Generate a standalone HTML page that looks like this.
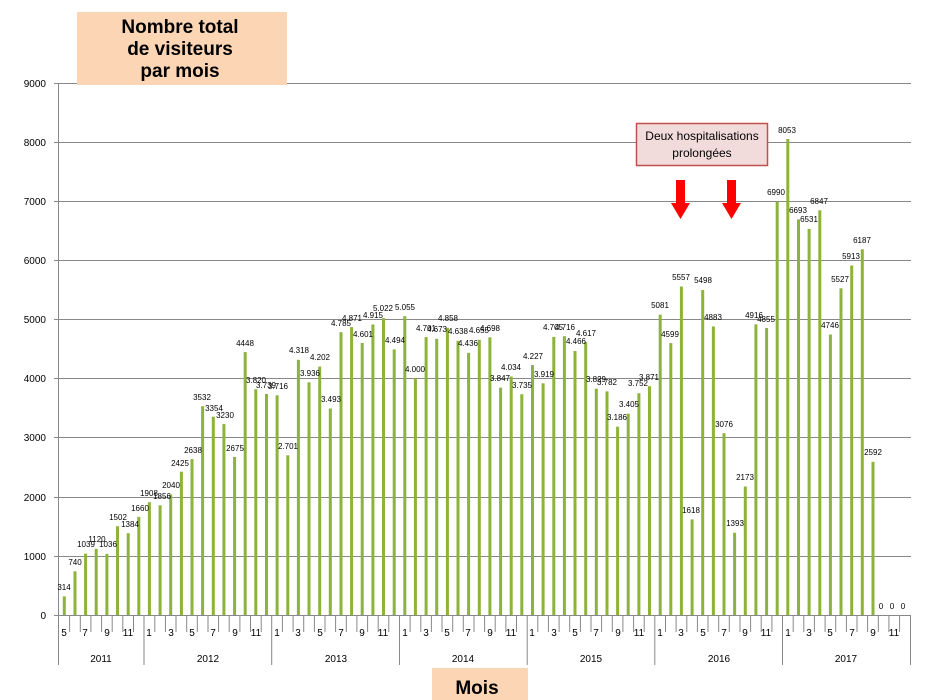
<!DOCTYPE html>
<html><head><meta charset="utf-8"><style>
html,body{margin:0;padding:0;background:#fff;}
svg{display:block;font-family:"Liberation Sans",sans-serif;}
.v{font-size:8px;text-anchor:middle;fill:#000;}
.m{font-size:10px;text-anchor:middle;fill:#000;}
.y{font-size:10px;text-anchor:end;fill:#000;}
</style></head><body>
<svg width="933" height="700" viewBox="0 0 933 700" xmlns="http://www.w3.org/2000/svg">
<rect width="933" height="700" fill="#fff"/>
<g stroke="#888" stroke-width="1">
<line x1="54" y1="83.5" x2="911" y2="83.5"/>
<line x1="54" y1="142.5" x2="911" y2="142.5"/>
<line x1="54" y1="201.5" x2="911" y2="201.5"/>
<line x1="54" y1="260.5" x2="911" y2="260.5"/>
<line x1="54" y1="319.5" x2="911" y2="319.5"/>
<line x1="54" y1="378.5" x2="911" y2="378.5"/>
<line x1="54" y1="437.5" x2="911" y2="437.5"/>
<line x1="54" y1="497.5" x2="911" y2="497.5"/>
<line x1="54" y1="556.5" x2="911" y2="556.5"/>
<line x1="54" y1="615.5" x2="911" y2="615.5"/>
<line x1="58.5" y1="83" x2="58.5" y2="665"/>
</g>
<g class="y">
<text x="46" y="87" class="y">9000</text><text x="46" y="146" class="y">8000</text><text x="46" y="205" class="y">7000</text><text x="46" y="264" class="y">6000</text><text x="46" y="323" class="y">5000</text><text x="46" y="382" class="y">4000</text><text x="46" y="441" class="y">3000</text><text x="46" y="501" class="y">2000</text><text x="46" y="560" class="y">1000</text><text x="46" y="619" class="y">0</text>
</g>
<g fill="#8db33a">
<rect x="62.8" y="596.4" width="3" height="18.6"/><rect x="73.5" y="571.3" width="3" height="43.7"/><rect x="84.1" y="553.6" width="3" height="61.4"/><rect x="94.7" y="548.8" width="3" height="66.2"/><rect x="105.4" y="553.8" width="3" height="61.2"/><rect x="116" y="526.2" width="3" height="88.8"/><rect x="126.7" y="533.2" width="3" height="81.8"/><rect x="137.3" y="516.9" width="3" height="98.1"/>
<rect x="147.9" y="502.2" width="3" height="112.8"/><rect x="158.6" y="505.3" width="3" height="109.7"/><rect x="169.2" y="494.4" width="3" height="120.6"/><rect x="179.9" y="471.7" width="3" height="143.3"/><rect x="190.5" y="459.1" width="3" height="155.9"/><rect x="201.1" y="406.2" width="3" height="208.8"/><rect x="211.8" y="416.7" width="3" height="198.3"/><rect x="222.4" y="424.1" width="3" height="190.9"/><rect x="233.1" y="456.9" width="3" height="158.1"/><rect x="243.7" y="352.1" width="3" height="262.9"/><rect x="254.3" y="389.2" width="3" height="225.8"/><rect x="265" y="394" width="3" height="221"/>
<rect x="275.6" y="395.3" width="3" height="219.7"/><rect x="286.3" y="455.3" width="3" height="159.7"/><rect x="296.9" y="359.8" width="3" height="255.2"/><rect x="307.5" y="382.3" width="3" height="232.7"/><rect x="318.2" y="366.6" width="3" height="248.4"/><rect x="328.8" y="408.5" width="3" height="206.5"/><rect x="339.5" y="332.2" width="3" height="282.8"/><rect x="350.1" y="327.1" width="3" height="287.9"/><rect x="360.7" y="343" width="3" height="272"/><rect x="371.4" y="324.5" width="3" height="290.5"/><rect x="382" y="318.1" width="3" height="296.9"/><rect x="392.7" y="349.4" width="3" height="265.6"/>
<rect x="403.3" y="316.2" width="3" height="298.8"/><rect x="413.9" y="378.6" width="3" height="236.4"/><rect x="424.6" y="337.1" width="3" height="277.9"/><rect x="435.2" y="338.8" width="3" height="276.2"/><rect x="445.9" y="327.8" width="3" height="287.2"/><rect x="456.5" y="340.8" width="3" height="274.2"/><rect x="467.1" y="352.8" width="3" height="262.2"/><rect x="477.8" y="339.8" width="3" height="275.2"/><rect x="488.4" y="337.3" width="3" height="277.7"/><rect x="499.1" y="387.6" width="3" height="227.4"/><rect x="509.7" y="376.5" width="3" height="238.5"/><rect x="520.3" y="394.2" width="3" height="220.8"/>
<rect x="531" y="365.1" width="3" height="249.9"/><rect x="541.6" y="383.3" width="3" height="231.7"/><rect x="552.3" y="336.9" width="3" height="278.1"/><rect x="562.9" y="336.2" width="3" height="278.8"/><rect x="573.5" y="351" width="3" height="264"/><rect x="584.2" y="342.1" width="3" height="272.9"/><rect x="594.8" y="388.7" width="3" height="226.3"/><rect x="605.5" y="391.4" width="3" height="223.6"/><rect x="616.1" y="426.7" width="3" height="188.3"/><rect x="626.7" y="413.7" width="3" height="201.3"/><rect x="637.4" y="393.2" width="3" height="221.8"/><rect x="648" y="386.2" width="3" height="228.8"/>
<rect x="658.7" y="314.7" width="3" height="300.3"/><rect x="669.3" y="343.1" width="3" height="271.9"/><rect x="679.9" y="286.5" width="3" height="328.5"/><rect x="690.6" y="519.4" width="3" height="95.6"/><rect x="701.2" y="290" width="3" height="325"/><rect x="711.9" y="326.4" width="3" height="288.6"/><rect x="722.5" y="433.2" width="3" height="181.8"/><rect x="733.1" y="532.7" width="3" height="82.3"/><rect x="743.8" y="486.5" width="3" height="128.5"/><rect x="754.4" y="324.4" width="3" height="290.6"/><rect x="765.1" y="328" width="3" height="287"/><rect x="775.7" y="201.8" width="3" height="413.2"/>
<rect x="786.3" y="139" width="3" height="476"/><rect x="797" y="219.4" width="3" height="395.6"/><rect x="807.6" y="228.9" width="3" height="386.1"/><rect x="818.3" y="210.3" width="3" height="404.7"/><rect x="828.9" y="334.5" width="3" height="280.5"/><rect x="839.5" y="288.3" width="3" height="326.7"/><rect x="850.2" y="265.5" width="3" height="349.5"/><rect x="860.8" y="249.3" width="3" height="365.7"/><rect x="871.5" y="461.8" width="3" height="153.2"/>
</g>
<g class="v">
<text x="64" y="590">314</text><text x="75" y="565">740</text><text x="86" y="547">1039</text><text x="97" y="542">1120</text><text x="108" y="547">1036</text><text x="118" y="520">1502</text><text x="130" y="527">1384</text><text x="140" y="511">1660</text>
<text x="149" y="496">1908</text><text x="162" y="499">1856</text><text x="171" y="488">2040</text><text x="180" y="466">2425</text><text x="193" y="453">2638</text><text x="202" y="400">3532</text><text x="214" y="411">3354</text><text x="225" y="418">3230</text><text x="235" y="451">2675</text><text x="245" y="346">4448</text><text x="256" y="383">3.820</text><text x="266" y="388">3.739</text>
<text x="278" y="389">3.716</text><text x="288" y="449">2.701</text><text x="299" y="353">4.318</text><text x="310" y="376">3.936</text><text x="320" y="360">4.202</text><text x="331" y="402">3.493</text><text x="341" y="326">4.785</text><text x="352" y="321">4.871</text><text x="363" y="337">4.601</text><text x="373" y="318">4.915</text><text x="383" y="311">5.022</text><text x="395" y="343">4.494</text>
<text x="405" y="310">5.055</text><text x="415" y="372">4.000</text><text x="426" y="331">4.701</text><text x="437" y="332">4.673</text><text x="448" y="321">4.858</text><text x="458" y="334">4.638</text><text x="468" y="346">4.436</text><text x="479" y="333">4.655</text><text x="490" y="331">4.698</text><text x="500" y="381">3.847</text><text x="511" y="370">4.034</text><text x="522" y="388">3.735</text>
<text x="533" y="359">4.227</text><text x="544" y="377">3.919</text><text x="553" y="330">4.705</text><text x="565" y="330">4.716</text><text x="576" y="344">4.466</text><text x="586" y="336">4.617</text><text x="596" y="382">3.829</text><text x="607" y="385">3.782</text><text x="617" y="420">3.186</text><text x="629" y="407">3.405</text><text x="638" y="386">3.752</text><text x="649" y="380">3.871</text>
<text x="660" y="308">5081</text><text x="670" y="337">4599</text><text x="681" y="280">5557</text><text x="691" y="513">1618</text><text x="703" y="283">5498</text><text x="713" y="320">4883</text><text x="724" y="427">3076</text><text x="735" y="526">1393</text><text x="745" y="480">2173</text><text x="754" y="318">4916</text><text x="766" y="322">4855</text><text x="776" y="195">6990</text>
<text x="787" y="133">8053</text><text x="798" y="213">6693</text><text x="809" y="222">6531</text><text x="819" y="204">6847</text><text x="830" y="328">4746</text><text x="840" y="282">5527</text><text x="851" y="259">5913</text><text x="862" y="243">6187</text><text x="873" y="455">2592</text><text x="881" y="609">0</text><text x="892" y="609">0</text><text x="903" y="609">0</text>
</g>
<g stroke="#888" stroke-width="1">
<line x1="69.6" y1="615" x2="69.6" y2="632"/><line x1="80.3" y1="615" x2="80.3" y2="632"/><line x1="90.9" y1="615" x2="90.9" y2="632"/><line x1="101.6" y1="615" x2="101.6" y2="632"/><line x1="112.2" y1="615" x2="112.2" y2="632"/><line x1="122.8" y1="615" x2="122.8" y2="632"/><line x1="133.5" y1="615" x2="133.5" y2="632"/>
<line x1="144" y1="615" x2="144" y2="665"/>
<line x1="154.8" y1="615" x2="154.8" y2="632"/><line x1="165.4" y1="615" x2="165.4" y2="632"/><line x1="176" y1="615" x2="176" y2="632"/><line x1="186.7" y1="615" x2="186.7" y2="632"/><line x1="197.3" y1="615" x2="197.3" y2="632"/><line x1="208" y1="615" x2="208" y2="632"/><line x1="218.6" y1="615" x2="218.6" y2="632"/><line x1="229.2" y1="615" x2="229.2" y2="632"/><line x1="239.9" y1="615" x2="239.9" y2="632"/><line x1="250.5" y1="615" x2="250.5" y2="632"/><line x1="261.2" y1="615" x2="261.2" y2="632"/>
<line x1="271.7" y1="615" x2="271.7" y2="665"/>
<line x1="282.4" y1="615" x2="282.4" y2="632"/><line x1="293.1" y1="615" x2="293.1" y2="632"/><line x1="303.7" y1="615" x2="303.7" y2="632"/><line x1="314.4" y1="615" x2="314.4" y2="632"/><line x1="325" y1="615" x2="325" y2="632"/><line x1="335.6" y1="615" x2="335.6" y2="632"/><line x1="346.3" y1="615" x2="346.3" y2="632"/><line x1="356.9" y1="615" x2="356.9" y2="632"/><line x1="367.6" y1="615" x2="367.6" y2="632"/><line x1="378.2" y1="615" x2="378.2" y2="632"/><line x1="388.8" y1="615" x2="388.8" y2="632"/>
<line x1="399.5" y1="615" x2="399.5" y2="665"/>
<line x1="410.1" y1="615" x2="410.1" y2="632"/><line x1="420.8" y1="615" x2="420.8" y2="632"/><line x1="431.4" y1="615" x2="431.4" y2="632"/><line x1="442" y1="615" x2="442" y2="632"/><line x1="452.7" y1="615" x2="452.7" y2="632"/><line x1="463.3" y1="615" x2="463.3" y2="632"/><line x1="474" y1="615" x2="474" y2="632"/><line x1="484.6" y1="615" x2="484.6" y2="632"/><line x1="495.2" y1="615" x2="495.2" y2="632"/><line x1="505.9" y1="615" x2="505.9" y2="632"/><line x1="516.5" y1="615" x2="516.5" y2="632"/>
<line x1="527.2" y1="615" x2="527.2" y2="665"/>
<line x1="537.8" y1="615" x2="537.8" y2="632"/><line x1="548.4" y1="615" x2="548.4" y2="632"/><line x1="559.1" y1="615" x2="559.1" y2="632"/><line x1="569.7" y1="615" x2="569.7" y2="632"/><line x1="580.4" y1="615" x2="580.4" y2="632"/><line x1="591" y1="615" x2="591" y2="632"/><line x1="601.6" y1="615" x2="601.6" y2="632"/><line x1="612.3" y1="615" x2="612.3" y2="632"/><line x1="622.9" y1="615" x2="622.9" y2="632"/><line x1="633.6" y1="615" x2="633.6" y2="632"/><line x1="644.2" y1="615" x2="644.2" y2="632"/>
<line x1="654.8" y1="615" x2="654.8" y2="665"/>
<line x1="665.5" y1="615" x2="665.5" y2="632"/><line x1="676.1" y1="615" x2="676.1" y2="632"/><line x1="686.8" y1="615" x2="686.8" y2="632"/><line x1="697.4" y1="615" x2="697.4" y2="632"/><line x1="708" y1="615" x2="708" y2="632"/><line x1="718.7" y1="615" x2="718.7" y2="632"/><line x1="729.3" y1="615" x2="729.3" y2="632"/><line x1="740" y1="615" x2="740" y2="632"/><line x1="750.6" y1="615" x2="750.6" y2="632"/><line x1="761.2" y1="615" x2="761.2" y2="632"/><line x1="771.9" y1="615" x2="771.9" y2="632"/>
<line x1="782.5" y1="615" x2="782.5" y2="665"/>
<line x1="793.2" y1="615" x2="793.2" y2="632"/><line x1="803.8" y1="615" x2="803.8" y2="632"/><line x1="814.4" y1="615" x2="814.4" y2="632"/><line x1="825.1" y1="615" x2="825.1" y2="632"/><line x1="835.7" y1="615" x2="835.7" y2="632"/><line x1="846.4" y1="615" x2="846.4" y2="632"/><line x1="857" y1="615" x2="857" y2="632"/><line x1="867.6" y1="615" x2="867.6" y2="632"/><line x1="878.3" y1="615" x2="878.3" y2="632"/><line x1="888.9" y1="615" x2="888.9" y2="632"/><line x1="899.6" y1="615" x2="899.6" y2="632"/>
<line x1="910.5" y1="615" x2="910.5" y2="665"/>
</g>
<g class="m">
<text x="64" y="636">5</text><text x="85" y="636">7</text><text x="107" y="636">9</text><text x="128" y="636">11</text>
<text x="149" y="636">1</text><text x="171" y="636">3</text><text x="192" y="636">5</text><text x="213" y="636">7</text><text x="235" y="636">9</text><text x="256" y="636">11</text>
<text x="277" y="636">1</text><text x="298" y="636">3</text><text x="320" y="636">5</text><text x="341" y="636">7</text><text x="362" y="636">9</text><text x="383" y="636">11</text>
<text x="405" y="636">1</text><text x="426" y="636">3</text><text x="447" y="636">5</text><text x="468" y="636">7</text><text x="490" y="636">9</text><text x="511" y="636">11</text>
<text x="532" y="636">1</text><text x="554" y="636">3</text><text x="575" y="636">5</text><text x="596" y="636">7</text><text x="618" y="636">9</text><text x="639" y="636">11</text>
<text x="660" y="636">1</text><text x="681" y="636">3</text><text x="703" y="636">5</text><text x="724" y="636">7</text><text x="745" y="636">9</text><text x="766" y="636">11</text>
<text x="788" y="636">1</text><text x="809" y="636">3</text><text x="830" y="636">5</text><text x="852" y="636">7</text><text x="873" y="636">9</text><text x="894" y="636">11</text>
<text x="101" y="662">2011</text><text x="208" y="662">2012</text><text x="336" y="662">2013</text><text x="463" y="662">2014</text><text x="591" y="662">2015</text><text x="719" y="662">2016</text><text x="846" y="662">2017</text>
</g>
<rect x="77" y="12" width="210" height="73" fill="#fcd5b4"/>
<g font-weight="bold" font-size="19" text-anchor="middle" fill="#000">
<text x="180" y="33">Nombre total</text><text x="180" y="55">de visiteurs</text><text x="180" y="77">par mois</text>
</g>
<rect x="432" y="668" width="96" height="32" fill="#fcd5b4"/>
<text x="477" y="694" font-weight="bold" font-size="19" text-anchor="middle">Mois</text>
<rect x="636.5" y="123.5" width="131" height="42" fill="#f2dcdb" stroke="#c0504d" stroke-width="1.5"/>
<g font-size="12" text-anchor="middle" fill="#000"><text x="702" y="140">Deux hospitalisations</text><text x="702" y="157">prolongées</text></g>
<g fill="#ff0000">
<polygon points="676,180 685,180 685,203 690,203 680.5,219 671,203 676,203"/>
<polygon points="727,180 736,180 736,203 741,203 731.5,219 722,203 727,203"/>
</g>
</svg>
</body></html>
